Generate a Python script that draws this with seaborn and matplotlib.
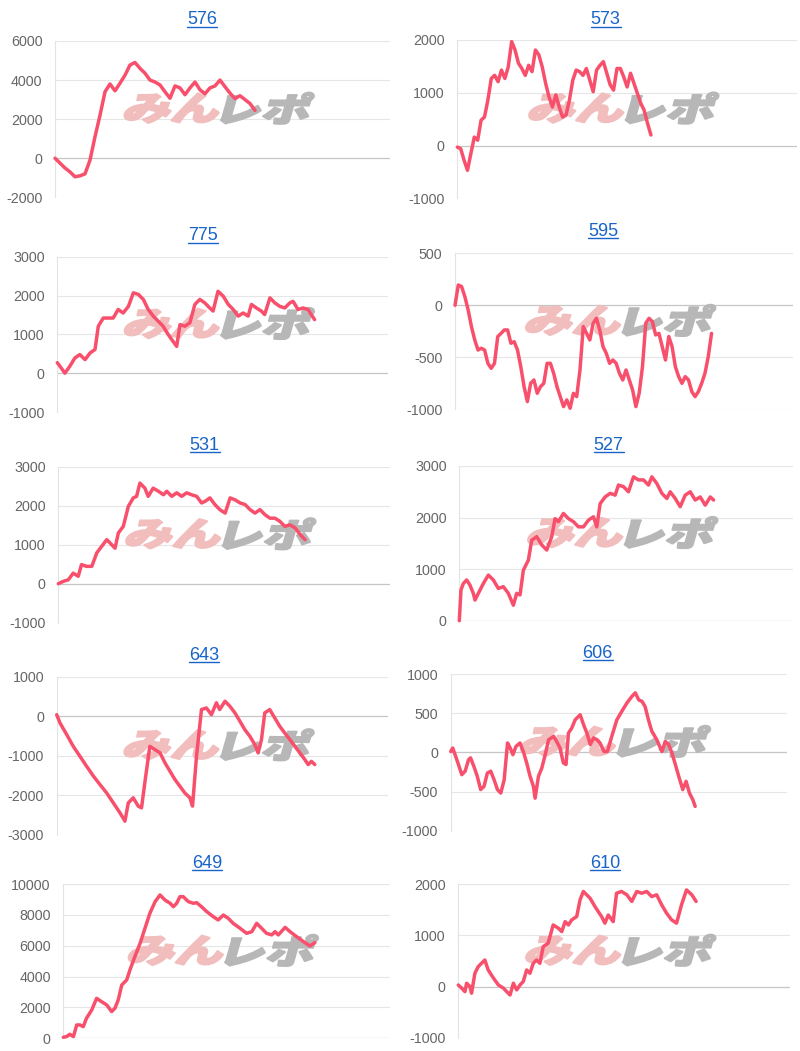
import numpy as np
import matplotlib
matplotlib.use("Agg")
import matplotlib.pyplot as plt
import seaborn as sns
from matplotlib.textpath import TextPath
from matplotlib.patches import PathPatch
from matplotlib.font_manager import FontProperties
from matplotlib.transforms import Affine2D
from matplotlib.lines import Line2D

# ---------------- data (x = progress in % of the axis, y = 差枚) ----------------
titles = ["576", "573", "775", "595", "531", "527", "643", "606", "649", "610"]

v576 = [0, -250, -500, -700, -950, -900, -800, -100, 1100, 2200, 3400, 3800, 3450, 3840,
        4250, 4770, 4900, 4600, 4350, 4000, 3900, 3750, 3400, 3070, 3700, 3600, 3250, 3600,
        3900, 3500, 3300, 3600, 3700, 4000, 3660, 3330, 3050, 3200, 3000, 2800, 2450]
x576 = np.linspace(0, 59.7, len(v576))

v573 = [-30, -60, -280, -470, -150, 160, 100, 480, 540, 860, 1270, 1330, 1210, 1430, 1270,
        1490, 1970, 1810, 1560, 1460, 1330, 1520, 1400, 1810, 1720, 1490, 1180, 920, 730, 960,
        730, 540, 575, 860, 1240, 1430, 1400, 1330, 1460, 1240, 1020, 1430, 1520, 1590, 1370,
        1150, 1050, 1460, 1460, 1300, 1110, 1370, 1180, 990, 800, 670, 420, 200]
x573 = np.linspace(0, 57.0, len(v573))

x775 = [0, 0.8, 2.3, 3.8, 5.3, 6.8, 8.4, 9.9, 11.4, 12.4, 13.9, 15.4, 16.9, 18.4, 19.9, 21.5,
        23.0, 24.5, 26.0, 27.5, 29.0, 30.5, 32.0, 33.5, 35.0, 36.1, 37.1, 38.6, 40.1, 41.6,
        43.1, 44.6, 46.1, 47.1, 48.6, 50.2, 51.7, 53.2, 54.7, 56.2, 57.7, 58.7, 60.2, 61.7,
        62.7, 64.3, 65.8, 67.3, 68.8, 70.3, 71.3, 72.8, 74.3, 75.8, 77.8]
v775 = [270, 180, 0, 180, 390, 480, 350, 520, 610, 1210, 1420, 1420, 1420, 1640, 1550, 1720,
        2070, 2030, 1900, 1640, 1470, 1340, 1210, 1000, 820, 690, 1250, 1210, 1300, 1770,
        1900, 1810, 1680, 1600, 2110, 1980, 1770, 1640, 1470, 1550, 1470, 1770, 1680, 1600,
        1510, 1940, 1810, 1720, 1680, 1810, 1850, 1640, 1680, 1640, 1380]

v595 = [0, 195, 180, 83, -45, -205, -333, -430, -413, -430, -558, -606, -558, -300, -270,
        -237, -237, -365, -350, -430, -590, -782, -926, -750, -718, -846, -782, -750, -558,
        -558, -654, -782, -878, -974, -910, -990, -846, -878, -622, -205, -270, -333, -173,
        -125, -237, -397, -462, -558, -526, -558, -654, -718, -622, -718, -814, -974, -846,
        -590, -173, -125, -157, -285, -270, -397, -526, -300, -397, -590, -686, -750, -686,
        -718, -830, -878, -830, -750, -654, -494, -270]
x595 = np.linspace(0, 75.9, len(v595))

x531 = [0, 1.5, 3.0, 4.5, 6.0, 7.0, 8.5, 10.1, 11.6, 13.1, 14.6, 16.1, 17.1, 18.1, 19.6, 21.1,
        22.6, 23.6, 24.6, 26.1, 27.1, 28.6, 30.2, 31.7, 32.7, 34.2, 35.7, 37.2, 38.7, 40.2,
        41.7, 43.2, 44.2, 45.7, 47.2, 48.7, 50.3, 51.8, 53.3, 54.8, 56.3, 57.8, 59.3, 60.8,
        62.3, 63.8, 65.3, 66.8, 68.3, 69.8, 71.4, 72.9, 74.4]
v531 = [0, 60, 100, 270, 190, 490, 445, 445, 790, 960, 1130, 1000, 910, 1300, 1470, 1980,
        2200, 2240, 2580, 2450, 2240, 2450, 2370, 2280, 2370, 2240, 2330, 2240, 2330, 2280,
        2240, 2070, 2110, 2200, 2030, 1900, 1810, 2200, 2150, 2070, 2030, 1900, 1810, 1900,
        1770, 1680, 1680, 1600, 1470, 1510, 1430, 1260, 1130]

x527 = [0, 0.5, 1.2, 2.2, 3.2, 4.2, 4.7, 5.7, 7.2, 8.7, 10.2, 11.7, 13.2, 14.7, 16.2, 17.2,
        18.2, 19.2, 20.7, 21.7, 23.2, 24.7, 26.2, 27.7, 28.7, 29.7, 31.2, 32.7, 34.2, 35.7,
        37.2, 38.7, 40.2, 41.2, 42.2, 43.7, 45.2, 46.7, 47.7, 49.2, 50.7, 52.2, 53.7, 55.2,
        56.7, 57.7, 59.2, 60.7, 62.2, 63.2, 64.7, 66.2, 67.7, 69.2, 70.7, 72.2, 73.7, 75.2, 76.2]
v527 = [0, 595, 720, 790, 690, 530, 400, 530, 720, 885, 790, 625, 660, 530, 300, 530, 500,
        980, 1175, 1560, 1630, 1470, 1370, 1630, 1980, 1920, 2080, 1980, 1920, 1820, 1820,
        1950, 2015, 1820, 2270, 2400, 2470, 2435, 2630, 2600, 2500, 2790, 2730, 2730, 2630,
        2790, 2660, 2470, 2370, 2500, 2370, 2210, 2435, 2500, 2340, 2400, 2240, 2400, 2340]

x643 = [0, 1.0, 3.0, 5.0, 7.0, 9.0, 11.1, 13.1, 15.1, 17.1, 19.1, 20.6, 21.6, 23.1, 24.6,
        25.6, 26.6, 28.1, 29.6, 31.2, 32.7, 34.2, 35.7, 37.2, 38.7, 40.2, 41.0, 42.2, 43.7,
        45.2, 46.7, 48.2, 49.2, 50.8, 52.3, 53.8, 55.3, 56.8, 58.3, 59.8, 60.8, 61.8, 62.8,
        64.3, 65.8, 67.3, 68.8, 70.4, 71.9, 73.4, 74.9, 75.9, 76.9, 77.9]
v643 = [40, -170, -460, -760, -1010, -1260, -1515, -1730, -1940, -2190, -2440, -2650, -2190,
        -2060, -2270, -2315, -1680, -760, -840, -925, -1180, -1390, -1600, -1770, -1940,
        -2060, -2270, -1010, 170, 210, 40, 340, 170, 380, 250, 85, -125, -340, -505, -715,
        -925, -590, 85, 170, -40, -250, -420, -590, -760, -925, -1095, -1220, -1140, -1220]

x606 = [0, 0.6, 1.3, 2.3, 3.3, 4.3, 5.3, 5.9, 6.9, 7.9, 8.9, 9.9, 10.9, 11.9, 12.9, 13.9,
        14.9, 15.9, 16.9, 17.7, 18.5, 19.4, 20.6, 21.6, 22.6, 23.6, 24.6, 25.1, 26.1, 27.1,
        28.1, 29.1, 30.6, 31.5, 32.5, 33.5, 34.3, 35.0, 36.0, 37.0, 38.5, 39.5, 40.5, 41.5,
        42.5, 43.5, 44.4, 45.6, 46.6, 47.9, 49.4, 50.9, 52.4, 53.9, 54.9, 55.9, 56.9, 57.8,
        58.8, 59.8, 61.3, 62.8, 63.8, 64.8, 65.8, 66.8, 67.8, 69.0, 70.0, 71.0, 72.0, 72.7]
v606 = [10, 55, -30, -155, -285, -240, -95, -70, -180, -305, -475, -435, -265, -240, -350,
        -475, -520, -350, 120, 55, -30, 75, 120, 10, -135, -305, -435, -585, -305, -200, -30,
        160, 205, 140, 55, -135, -155, 245, 310, 415, 480, 355, 245, 100, 185, 160, 120, 10,
        10, 205, 415, 525, 630, 715, 760, 670, 650, 585, 415, 270, 160, 10, 140, 100, -10,
        -155, -305, -475, -370, -520, -605, -690]

x649 = [0, 1.0, 2.0, 3.1, 4.1, 5.1, 6.1, 7.1, 8.7, 10.2, 11.7, 13.3, 14.8, 15.8, 16.8, 17.9,
        19.4, 20.4, 21.9, 23.5, 25.0, 26.5, 28.1, 29.6, 31.1, 32.7, 33.7, 34.7, 35.7, 36.7,
        38.3, 39.8, 40.8, 42.3, 43.9, 45.9, 47.4, 49.0, 50.5, 52.0, 54.1, 56.1, 57.7, 59.2,
        60.7, 62.2, 63.8, 64.8, 65.8, 67.9, 69.4, 71.4, 73.5, 75.5, 77.0]
v649 = [65, 110, 260, 110, 865, 865, 755, 1300, 1835, 2590, 2375, 2160, 1730, 1945, 2480,
        3455, 3780, 4430, 5290, 6155, 7130, 8100, 8855, 9290, 8965, 8750, 8530, 8750, 9180,
        9180, 8855, 8750, 8790, 8530, 8210, 7885, 7670, 7990, 7775, 7450, 7130, 6805, 6910,
        7450, 7130, 6805, 6700, 6910, 6700, 7190, 6910, 6590, 6265, 5985, 6200]

x610 = [0, 1.0, 2.0, 2.5, 3.5, 4.0, 5.0, 6.0, 7.0, 8.0, 9.0, 10.6, 12.1, 13.6, 14.6, 15.6,
        16.6, 17.6, 18.6, 19.6, 20.6, 21.6, 22.6, 23.6, 24.6, 25.6, 27.1, 28.6, 30.2, 31.2,
        32.2, 33.2, 34.2, 35.7, 36.7, 37.7, 38.7, 39.7, 41.2, 42.2, 43.2, 44.2, 45.2, 46.7,
        47.7, 49.2, 50.8, 52.3, 53.8, 55.3, 56.8, 58.3, 59.8, 61.3, 62.8, 64.3, 65.8, 67.3,
        68.8, 70.4, 71.7]
v610 = [30, -30, -100, 65, 0, -130, 260, 390, 455, 520, 325, 165, 30, -30, -100, -165, 65,
        -65, 30, 100, 325, 260, 455, 520, 455, 780, 850, 1205, 1140, 1075, 1270, 1205, 1305,
        1370, 1695, 1860, 1795, 1730, 1565, 1465, 1370, 1240, 1400, 1270, 1825, 1860, 1795,
        1665, 1860, 1825, 1860, 1760, 1795, 1600, 1435, 1305, 1240, 1600, 1890, 1795, 1665]

t576 = [-2000, 0, 2000, 4000, 6000]
t573 = [-1000, 0, 1000, 2000]
t775 = [-1000, 0, 1000, 2000, 3000]
t595 = [-1000, -500, 0, 500]
t531 = [-1000, 0, 1000, 2000, 3000]
t527 = [0, 1000, 2000, 3000]
t643 = [-3000, -2000, -1000, 0, 1000]
t606 = [-1000, -500, 0, 500, 1000]
t649 = [0, 2000, 4000, 6000, 8000, 10000]
t610 = [-1000, 0, 1000, 2000]

# ---------------- style ----------------
W, H = 800, 1051
sns.set_theme(style="white")
plt.rcParams["font.family"] = ["Liberation Sans", "DejaVu Sans"]
plt.rcParams["axes.unicode_minus"] = False

LINE = "#f8506c"
BLUE = "#1864c8"
GRID = "#e6e6e6"
ZERO = "#c6c6c6"

fig = plt.figure(figsize=(W / 100, H / 100), dpi=100)
fig.patch.set_facecolor("white")

# (left, right, top, bottom) in px, title centre (x, y) in px
layout = [
    ((55, 390, 41, 197.3), (202, 20)),
    ((457.3, 797, 40, 198.3), (605.7, 20)),
    ((57.3, 388, 256.7, 412), (203, 236)),
    ((455, 793, 253.3, 409.3), (603, 231.7)),
    ((58.3, 390, 466.7, 622.7), (204.7, 445)),
    ((459.3, 793, 466, 620.7), (608.7, 445)),
    ((56.7, 388, 676.7, 835), (203.8, 655)),
    ((450.7, 787, 674, 830.7), (597.8, 653.3)),
    ((63.3, 390, 884, 1038.3), (207.3, 863.3)),
    ((458.3, 790, 884.3, 1037.7), (605.3, 863.3)),
]
series = [(x576, v576, t576), (x573, v573, t573), (x775, v775, t775), (x595, v595, t595),
          (x531, v531, t531), (x527, v527, t527), (x643, v643, t643), (x606, v606, t606),
          (x649, v649, t649), (x610, v610, t610)]

px2disp = Affine2D().scale(1 / 100.0) + fig.dpi_scale_trans
wm_font = FontProperties(family="Noto Sans CJK JP", weight="black")


def watermark(ax, box):
    l, r, t, b = box
    cx = (l + r) / 2.0
    cy = H - (t + 0.43 * (b - t))
    p1 = TextPath((0, 0), "みん", size=44, prop=wm_font)
    p2 = TextPath((0, 0), "レポ", size=44, prop=wm_font)
    e1, e2 = p1.get_extents(), p2.get_extents()
    gap = 4.0
    total = e1.width + gap + e2.width
    sx = 184.0 / total
    sy = 31.0 / max(e1.height, e2.height)
    x_start = cx - 96.0
    for path, ext, x0, col in ((p1, e1, x_start, "#f2bdbd"),
                               (p2, e2, x_start + sx * (e1.width + gap), "#b7b7b7")):
        tr = (Affine2D().translate(-ext.x0, -(ext.y0 + ext.height / 2.0))
              .scale(sx, sy).skew_deg(16, 0).translate(x0, cy)) + px2disp
        ax.add_patch(PathPatch(path, transform=tr, facecolor=col, edgecolor=col,
                               linewidth=1.6, joinstyle="round", zorder=1, clip_on=False))


title_texts = []
for (box, tpos), (xs, ys, ticks), title in zip(layout, series, titles):
    l, r, t, b = box
    ax = fig.add_axes([l / W, 1 - b / H, (r - l) / W, (b - t) / H])
    ax.set_facecolor("none")
    for tk in ticks:
        ax.axhline(tk, color=ZERO if tk == 0 else GRID, lw=0.9 if tk == 0 else 0.8, zorder=0.5)
    watermark(ax, box)
    sns.lineplot(x=xs, y=ys, ax=ax, color=LINE, linewidth=2.5, estimator=None, sort=False,
                 zorder=3)
    ln = ax.lines[-1]
    ln.set_clip_on(False)
    ln.set_solid_joinstyle("round")
    ln.set_solid_capstyle("round")
    ax.set_xlim(0, 100)
    ax.set_ylim(ticks[0], ticks[-1])
    ax.set_yticks(ticks)
    ax.set_yticklabels([str(tk) for tk in ticks])
    ax.set_xticks([])
    ax.set_xlabel("")
    ax.set_ylabel("")
    ax.tick_params(axis="y", length=0, pad=9, labelsize=10.3, labelcolor="#666666")
    for sp in ("top", "right", "bottom"):
        ax.spines[sp].set_visible(False)
    ax.spines["left"].set_color("#e3e3e3")
    ax.spines["left"].set_linewidth(0.8)
    txt = fig.text(tpos[0] / W, 1 - tpos[1] / H, title, ha="center", va="center",
                   fontsize=13, color=BLUE)
    title_texts.append(txt)

fig.canvas.draw()
renderer = fig.canvas.get_renderer()
for txt in title_texts:
    bb = txt.get_window_extent(renderer)
    y = bb.y0 + 2.0
    fig.add_artist(Line2D([bb.x0 / W, bb.x1 / W], [y / H, y / H], color=BLUE, lw=1.0,
                          transform=fig.transFigure))

fig.savefig("out.png", dpi=100, facecolor="white")
